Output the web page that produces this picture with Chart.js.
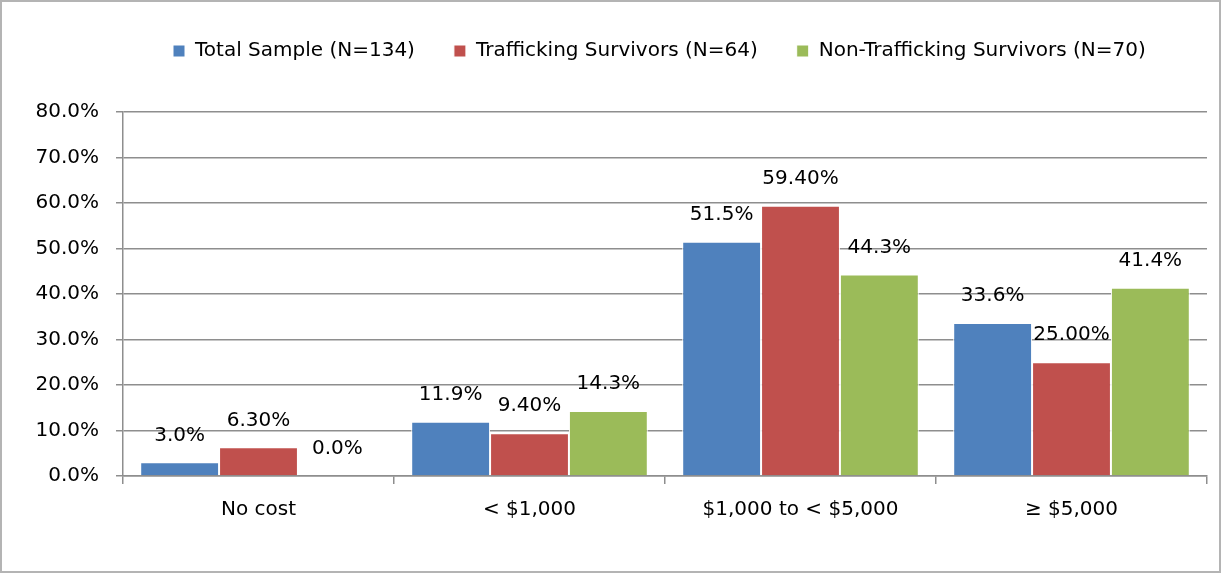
<!DOCTYPE html>
<html>
<head>
<meta charset="utf-8">
<script src="https://cdn.jsdelivr.net/npm/chart.js@4"></script>
<style>
  html, body { margin: 0; padding: 0; background: #fff; }
  #frame {
    position: absolute; left: 0; top: 0;
    width: 1217px; height: 569px;
    border: 2px solid #b4b4b4;
  }
</style>
</head>
<body>
<div id="frame"><canvas id="chart" width="1217" height="569"></canvas></div>
<script>
// data
const categories = ["No cost", "< $1,000", "$1,000 to < $5,000", "\u2265 $5,000"];
const seriesNames = ["Total Sample (N=134)", "Trafficking Survivors (N=64)", "Non-Trafficking Survivors (N=70)"];
const totalSample = [3.0, 11.9, 51.5, 33.6];
const traffickingSurvivors = [6.3, 9.4, 59.4, 25.0];
const nonTraffickingSurvivors = [0.0, 14.3, 44.3, 41.4];
const labelDecimals = [1, 2, 1];
const yTicks = [0, 10, 20, 30, 40, 50, 60, 70, 80];

const colors = ["#4F81BD", "#C0504D", "#9BBB59"];
const FONT = "'DejaVu Sans', sans-serif";
const FONT_SIZE = 20;
const GRID = "#8e8e8e";

// labels au-dessus des barres
const valueLabels = {
  id: "valueLabels",
  afterDatasetsDraw(chart) {
    const ctx = chart.ctx;
    ctx.save();
    ctx.font = FONT_SIZE + "px " + FONT;
    ctx.fillStyle = "#000";
    ctx.textAlign = "center";
    ctx.textBaseline = "middle";
    chart.data.datasets.forEach((ds, di) => {
      const meta = chart.getDatasetMeta(di);
      meta.data.forEach((bar, i) => {
        const txt = ds.data[i].toFixed(labelDecimals[di]) + "%";
        ctx.fillText(txt, bar.x, bar.y - 27);
      });
    });
    ctx.restore();
  },
};

// légende : hauteur fixe, décalée comme dans Excel
const legendTweak = {
  id: "legendTweak",
  beforeInit(chart) {
    const legend = chart.legend;
    const fit = legend.fit;
    legend.fit = function () {
      fit.call(this);
      this.height = 110;
    };
    const draw = legend.draw;
    legend.draw = function () {
      const l = this.left;
      this.left = 171 - this.options.labels.padding;
      draw.call(this);
      this.left = l;
    };
  },
};

new Chart(document.getElementById("chart"), {
  type: "bar",
  data: {
    labels: categories,
    datasets: [totalSample, traffickingSurvivors, nonTraffickingSurvivors].map((d, i) => ({
      label: seriesNames[i],
      data: d,
      backgroundColor: colors[i],
      borderColor: "#ffffff",
      borderWidth: 1,
      barPercentage: 1,
      categoryPercentage: 0.873,
    })),
  },
  options: {
    responsive: false,
    animation: false,
    layout: { padding: { top: 0, right: 12, left: 0, bottom: 0 } },
    plugins: {
      tooltip: { enabled: false },
      legend: {
        position: "top",
        align: "start",
        labels: {
          font: { family: FONT, size: FONT_SIZE },
          color: "#000",
          boxWidth: 12,
          boxHeight: 12,
          padding: 39,
        },
      },
    },
    scales: {
      x: {
        grid: {
          offset: true,
          drawOnChartArea: false,
          drawTicks: true,
          tickLength: 8,
          color: GRID,
          lineWidth: 1.5,
        },
        border: { color: GRID, width: 1.5 },
        ticks: { font: { family: FONT, size: FONT_SIZE }, color: "#000", padding: 14 },
        afterFit(axis) { axis.height = 95; },
      },
      y: {
        min: 0,
        max: 80,
        afterBuildTicks(axis) { axis.ticks = yTicks.map((v) => ({ value: v })); },
        grid: { color: GRID, lineWidth: 1.5, tickLength: 7 },
        border: { color: GRID, width: 1.5 },
        ticks: {
          font: { family: FONT, size: FONT_SIZE },
          color: "#000",
          padding: 17,
          callback: (v) => v.toFixed(1) + "%",
        },
        afterFit(axis) { axis.width = 121; },
      },
    },
  },
  plugins: [valueLabels, legendTweak],
});
</script>
</body>
</html>
